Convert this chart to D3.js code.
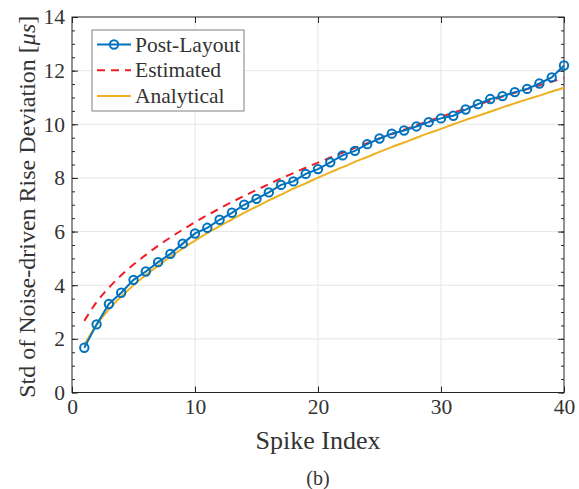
<!DOCTYPE html>
<html lang="en">
<head>
<meta charset="utf-8">
<title>Rise deviation</title>
<script src="https://cdn.jsdelivr.net/npm/d3@7"></script>
<style>
  body { margin: 0; background: #fff; }
  text { font-family: "Liberation Serif", "Times New Roman", serif; fill: #333; }
</style>
</head>
<body>
<script>
// spike index 1..40
var spikeIdx = d3.range(1, 41);

var postLayout = [1.67, 2.54, 3.30, 3.72, 4.20, 4.51, 4.86, 5.17, 5.55, 5.93,
                  6.14, 6.44, 6.70, 7.00, 7.22, 7.46, 7.74, 7.87, 8.15, 8.33,
                  8.58, 8.84, 9.01, 9.26, 9.47, 9.65, 9.77, 9.92, 10.08, 10.22,
                  10.32, 10.55, 10.75, 10.94, 11.05, 11.20, 11.32, 11.52, 11.75, 12.19];

var estimated = [2.67, 3.37, 3.91, 4.37, 4.77, 5.13, 5.47, 5.78, 6.07, 6.35,
                 6.61, 6.86, 7.10, 7.33, 7.55, 7.77, 7.98, 8.18, 8.38, 8.57,
                 8.76, 8.94, 9.12, 9.30, 9.47, 9.64, 9.80, 9.97, 10.12, 10.28,
                 10.43, 10.59, 10.73, 10.88, 11.03, 11.17, 11.31, 11.45, 11.59, 11.72];

var analytical = [1.78, 2.52, 3.10, 3.58, 4.00, 4.38, 4.73, 5.06, 5.37, 5.66,
                  5.94, 6.20, 6.45, 6.70, 6.93, 7.16, 7.38, 7.60, 7.80, 8.01,
                  8.21, 8.40, 8.60, 8.78, 8.97, 9.15, 9.32, 9.50, 9.67, 9.83,
                  10.00, 10.16, 10.32, 10.47, 10.63, 10.78, 10.93, 11.07, 11.22, 11.36];

var xTicks = [0, 10, 20, 30, 40];
var yTicks = [0, 2, 4, 6, 8, 10, 12, 14];

var width = 579, height = 489;
// plot box (window.top is read-only, so no bare "top")
var pL = 72, pR = 564, pT = 17, pB = 392.5;

var svg = d3.select("body").append("svg")
            .attr("width", width)
            .attr("height", height);

var x = d3.scaleLinear().domain([0, 40]).range([pL, pR]);
var y = d3.scaleLinear().domain([0, 14]).range([pB, pT]);

// grid
svg.append("g").selectAll("line")
   .data(xTicks.slice(1, -1)).enter().append("line")
   .attr("x1", function(d){ return x(d); }).attr("x2", function(d){ return x(d); })
   .attr("y1", pT).attr("y2", pB)
   .attr("stroke", "#e6e6e6").attr("stroke-width", 1);
svg.append("g").selectAll("line")
   .data(yTicks.slice(1, -1)).enter().append("line")
   .attr("x1", pL).attr("x2", pR)
   .attr("y1", function(d){ return y(d); }).attr("y2", function(d){ return y(d); })
   .attr("stroke", "#e6e6e6").attr("stroke-width", 1);

// axes (ticks inside, box all round)
var yMinor = d3.range(0, 14.01, 0.5);
function noDomain(g){ g.select(".domain").remove(); }

svg.append("g").attr("transform", "translate(" + pL + ",0)")
   .call(d3.axisLeft(y).tickValues(yMinor).tickSize(-3).tickFormat(""))
   .call(noDomain);
svg.append("g").attr("transform", "translate(" + pR + ",0)")
   .call(d3.axisRight(y).tickValues(yMinor).tickSize(-3).tickFormat(""))
   .call(noDomain);
svg.append("g").attr("transform", "translate(" + pL + ",0)")
   .call(d3.axisLeft(y).tickValues(yTicks).tickSize(-6).tickPadding(7).tickFormat(d3.format("d")))
   .call(noDomain);
svg.append("g").attr("transform", "translate(" + pR + ",0)")
   .call(d3.axisRight(y).tickValues(yTicks).tickSize(-6).tickFormat(""))
   .call(noDomain);
svg.append("g").attr("transform", "translate(0," + pB + ")")
   .call(d3.axisBottom(x).tickValues(xTicks).tickSize(-6).tickPadding(6).tickFormat(d3.format("d")))
   .call(noDomain);
svg.append("g").attr("transform", "translate(0," + pT + ")")
   .call(d3.axisTop(x).tickValues(xTicks).tickSize(-6).tickFormat(""))
   .call(noDomain);

svg.selectAll(".tick line").attr("stroke", "#262626");
svg.selectAll(".tick text").attr("font-size", 21.5)
   .attr("font-family", "Liberation Serif, serif").attr("fill", "#333");

svg.append("rect")
   .attr("x", pL).attr("y", pT)
   .attr("width", pR - pL).attr("height", pB - pT)
   .attr("fill", "none").attr("stroke", "#262626").attr("stroke-width", 1);

// curves
var line = d3.line()
             .x(function(d, i){ return x(spikeIdx[i]); })
             .y(function(d){ return y(d); });
var smooth = d3.line()
             .curve(d3.curveMonotoneX)
             .x(function(d, i){ return x(spikeIdx[i]); })
             .y(function(d){ return y(d); });

svg.append("path").attr("d", smooth(analytical))
   .attr("fill", "none").attr("stroke", "#EDB120").attr("stroke-width", 2);

svg.append("path").attr("d", smooth(estimated))
   .attr("fill", "none").attr("stroke", "#EE1C25").attr("stroke-width", 2)
   .attr("stroke-dasharray", "8,6");

svg.append("path").attr("d", line(postLayout))
   .attr("fill", "none").attr("stroke", "#0072BD").attr("stroke-width", 2);

svg.append("g").selectAll("circle")
   .data(postLayout).enter().append("circle")
   .attr("cx", function(d, i){ return x(spikeIdx[i]); })
   .attr("cy", function(d){ return y(d); })
   .attr("r", 4.2)
   .attr("fill", "none").attr("stroke", "#0072BD").attr("stroke-width", 2);

// legend
var lg = svg.append("g");
lg.append("rect").attr("x", 92).attr("y", 30).attr("width", 152).attr("height", 81)
  .attr("fill", "#fff").attr("stroke", "#808080").attr("stroke-width", 1);
var items = [
  {name: "Post-Layout", color: "#0072BD", dash: null, marker: true},
  {name: "Estimated", color: "#EE1C25", dash: "8,6", marker: false},
  {name: "Analytical", color: "#EDB120", dash: null, marker: false}
];
items.forEach(function(it, i){
  var ly = 44.5 + i * 25.8;
  lg.append("line").attr("x1", 97).attr("x2", 131).attr("y1", ly).attr("y2", ly)
    .attr("stroke", it.color).attr("stroke-width", 2)
    .attr("stroke-dasharray", it.dash);
  if (it.marker) {
    lg.append("circle").attr("cx", 114).attr("cy", ly).attr("r", 4.2)
      .attr("fill", "none").attr("stroke", it.color).attr("stroke-width", 2);
  }
  lg.append("text").attr("x", 135).attr("y", ly + 7)
    .attr("font-size", 21.5).text(it.name);
});

// labels
svg.append("text").attr("x", (pL + pR) / 2).attr("y", 449)
   .attr("text-anchor", "middle").attr("font-size", 26).text("Spike Index");

var yl = svg.append("text")
   .attr("transform", "translate(35," + ((pT + pB) / 2 + 2) + ") rotate(-90)")
   .attr("text-anchor", "middle").attr("font-size", 24);
yl.append("tspan").text("Std of Noise-driven Rise Deviation [");
yl.append("tspan").attr("font-style", "italic").text("μs");
yl.append("tspan").text("]");

svg.append("text").attr("x", (pL + pR) / 2).attr("y", 485)
   .attr("text-anchor", "middle").attr("font-size", 20).attr("fill", "#222").text("(b)");

</script>
</body>
</html>
